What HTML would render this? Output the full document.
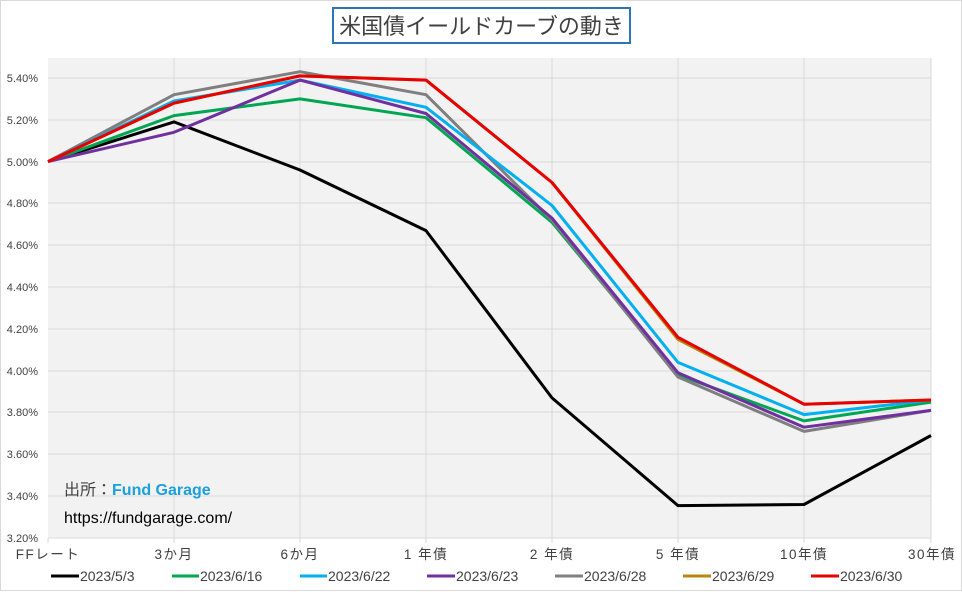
<!DOCTYPE html>
<html><head><meta charset="utf-8"><style>
body{margin:0;background:#fff}
svg text{font-family:"Liberation Sans","Noto Sans CJK JP",sans-serif}
</style></head><body>
<svg width="962" height="591" xmlns="http://www.w3.org/2000/svg">
<rect x="0.5" y="0.5" width="961" height="590" fill="#fff" stroke="#d9d9d9"/>
<rect x="48" y="58" width="883" height="480" fill="#f2f2f2"/>
<g stroke="#d9d9d9" stroke-width="1">
<line x1="48" x2="931" y1="78" y2="78"/><line x1="48" x2="931" y1="120" y2="120"/><line x1="48" x2="931" y1="162" y2="162"/><line x1="48" x2="931" y1="203" y2="203"/><line x1="48" x2="931" y1="245" y2="245"/><line x1="48" x2="931" y1="287" y2="287"/><line x1="48" x2="931" y1="329" y2="329"/><line x1="48" x2="931" y1="371" y2="371"/><line x1="48" x2="931" y1="412" y2="412"/><line x1="48" x2="931" y1="454" y2="454"/><line x1="48" x2="931" y1="496" y2="496"/>
<line x1="174" x2="174" y1="58" y2="543"/><line x1="300" x2="300" y1="58" y2="543"/><line x1="426" x2="426" y1="58" y2="543"/><line x1="552" x2="552" y1="58" y2="543"/><line x1="678" x2="678" y1="58" y2="543"/><line x1="804" x2="804" y1="58" y2="543"/><line x1="931" x2="931" y1="58" y2="543"/><line x1="48" x2="48" y1="538" y2="543"/>
<line x1="48" x2="931" y1="538" y2="538"/>
</g>
<g font-size="11" fill="#404040" text-anchor="end">
<text x="38" y="82">5.40%</text><text x="38" y="124">5.20%</text><text x="38" y="166">5.00%</text><text x="38" y="207">4.80%</text><text x="38" y="249">4.60%</text><text x="38" y="291">4.40%</text><text x="38" y="333">4.20%</text><text x="38" y="375">4.00%</text><text x="38" y="416">3.80%</text><text x="38" y="458">3.60%</text><text x="38" y="500">3.40%</text><text x="38" y="542">3.20%</text>
</g>
<g font-size="13.5" fill="#404040" text-anchor="middle" letter-spacing="1.5">
<text x="48" y="559">FFレート</text><text x="174" y="559">3か月</text><text x="300" y="559">6か月</text><text x="426" y="559">1 年債</text><text x="552" y="559">2 年債</text><text x="678" y="559">5 年債</text><text x="804" y="559">10年債</text><text x="932" y="559">30年債</text>
</g>
<g fill="none" stroke-width="3" stroke-linejoin="round">
<polyline stroke="#000" points="48,161.6 174,121.9 300,170 426,230.6 552,397.9 678,505.6 804,504.5 931,435.5"/>
<polyline stroke="#00a651" points="48,161.6 174,115.6 300,98.9 426,117.7 552,222.3 678,374.9 804,420.9 931,402.1"/>
<polyline stroke="#7f7f7f" points="48,161.6 174,94.7 300,71.7 426,94.7 552,220.2 678,377 804,431.4 931,410.4"/>
<polyline stroke="#00b0f0" points="48,161.6 174,101 300,80.1 426,107.3 552,205.5 678,362.4 804,414.6 931,400"/>
<polyline stroke="#7030a0" points="48,161.6 174,132.3 300,80.1 426,113.5 552,218.1 678,372.8 804,427.2 931,410.4"/>
<polyline stroke="#b8860b" points="48,161.6 174,103.1 300,75.9 426,80.1 552,182.5 678,339.4 804,404.2 931,400"/>
<polyline stroke="#e60000" points="48,161.6 174,103.1 300,75.9 426,80.1 552,182.5 678,337.3 804,404.2 931,400"/>
</g>
<rect x="333" y="8" width="297" height="35" fill="#fff" stroke="#2e75b6" stroke-width="2"/>
<text x="481.5" y="34" font-size="22" fill="#404040" text-anchor="middle">米国債イールドカーブの動き</text>
<text x="64" y="495" font-size="16" fill="#404040">出所：<tspan fill="#1aa0db" font-weight="bold">Fund Garage</tspan></text>
<text x="64" y="523" font-size="16" fill="#000">https://fundgarage.com/</text>
<g font-size="14" fill="#404040">
<line x1="51" x2="79" y1="576" y2="576" stroke="#000" stroke-width="3"/><text x="80" y="581">2023/5/3</text>
<line x1="172" x2="199" y1="576" y2="576" stroke="#00a651" stroke-width="3"/><text x="200" y="581">2023/6/16</text>
<line x1="300" x2="327" y1="576" y2="576" stroke="#00b0f0" stroke-width="3"/><text x="328" y="581">2023/6/22</text>
<line x1="427" x2="455" y1="576" y2="576" stroke="#7030a0" stroke-width="3"/><text x="456" y="581">2023/6/23</text>
<line x1="555" x2="583" y1="576" y2="576" stroke="#7f7f7f" stroke-width="3"/><text x="584" y="581">2023/6/28</text>
<line x1="683" x2="711" y1="576" y2="576" stroke="#b8860b" stroke-width="3"/><text x="712" y="581">2023/6/29</text>
<line x1="811" x2="839" y1="576" y2="576" stroke="#e60000" stroke-width="3"/><text x="840" y="581">2023/6/30</text>
</g>
</svg>
</body></html>
